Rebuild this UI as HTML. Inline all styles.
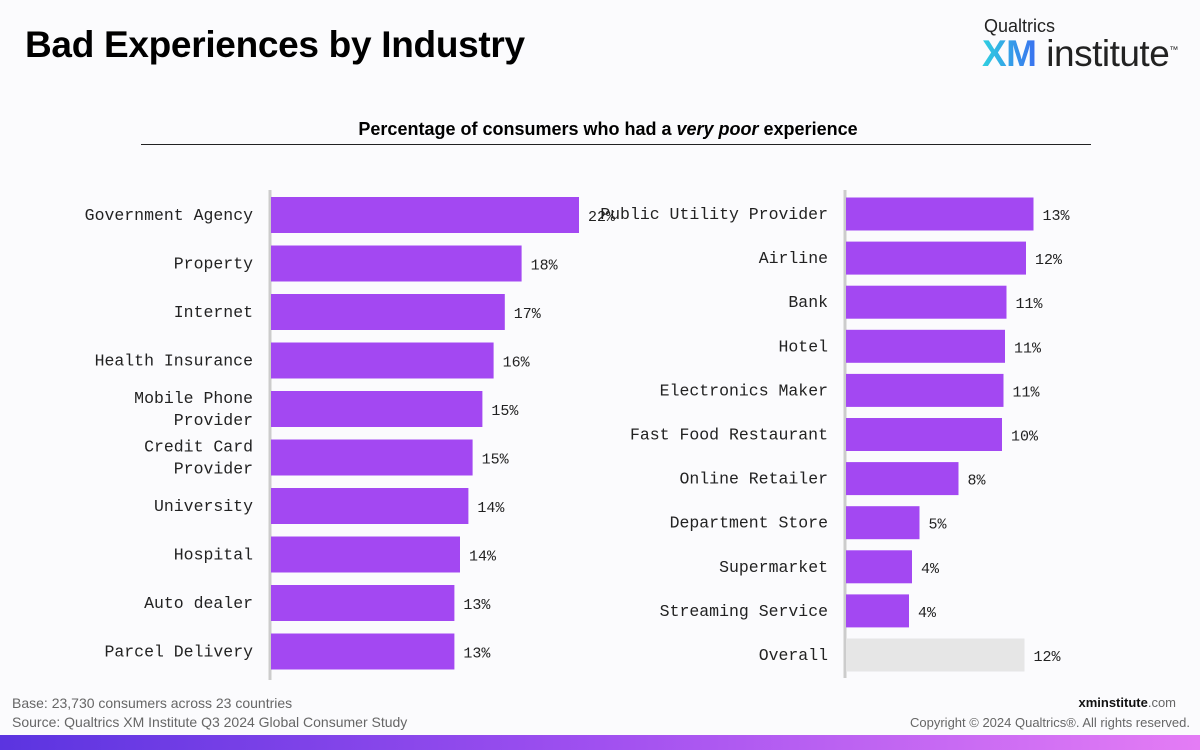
<!DOCTYPE html>
<html><head><meta charset="utf-8"><style>
body{margin:0;width:1200px;height:750px;background:#fbfbfd;font-family:"Liberation Sans",sans-serif;position:relative;overflow:hidden}
.t{position:absolute;white-space:nowrap}
</style></head><body>
<div class="t" style="left:25px;top:24px;font-size:37px;font-weight:bold;color:#000;letter-spacing:-0.3px">Bad Experiences by Industry</div>
<div class="t" style="left:984px;top:16px;font-size:18px;color:#222">Qualtrics</div>
<div class="t" style="left:982px;top:33px;font-size:37px;color:#222;letter-spacing:-0.5px"><b style="background:linear-gradient(90deg,#2fd0e0,#3a6ff0);-webkit-background-clip:text;color:transparent">XM</b> institute<sup style="font-size:9px">™</sup></div>
<div class="t" style="left:0;width:1216px;text-align:center;top:119px;font-size:18px;font-weight:bold;color:#000">Percentage of consumers who had a <i>very poor</i> experience</div>
<div style="position:absolute;left:141px;top:144px;width:950px;height:1px;background:#222"></div>
<svg id="chart" width="1200" height="750" style="position:absolute;left:0;top:0"></svg>
<div class="t" style="left:12px;top:695px;font-size:14px;color:#666">Base: 23,730 consumers across 23 countries</div>
<div class="t" style="left:12px;top:714px;font-size:14px;color:#666">Source: Qualtrics XM Institute Q3 2024 Global Consumer Study</div>
<div class="t" style="right:24px;top:695px;font-size:13px;color:#111"><b>xminstitute</b><span style="color:#666">.com</span></div>
<div class="t" style="right:10px;top:715px;font-size:13px;color:#666">Copyright © 2024 Qualtrics®. All rights reserved.</div>
<div style="position:absolute;left:0;top:735px;width:1200px;height:15px;background:linear-gradient(90deg,#5b34e0,#a050f0 50%,#e47cf5)"></div>
<script>
const leftCats=["Government Agency","Property","Internet","Health Insurance","Mobile Phone\nProvider","Credit Card\nProvider","University","Hospital","Auto dealer","Parcel Delivery"];
const leftVals=[22,17.9,16.7,15.9,15.1,14.4,14.1,13.5,13.1,13.1];
const leftLabels=["22%","18%","17%","16%","15%","15%","14%","14%","13%","13%"];
const rightCats=["Public Utility Provider","Airline","Bank","Hotel","Electronics Maker","Fast Food Restaurant","Online Retailer","Department Store","Supermarket","Streaming Service","Overall"];
const rightVals=[12.5,12,10.7,10.6,10.5,10.4,7.5,4.9,4.4,4.2,11.9];
const rightLabels=["13%","12%","11%","11%","11%","10%","8%","5%","4%","4%","12%"];
const svg=document.getElementById('chart');const NS="http://www.w3.org/2000/svg";
const FONT='Liberation Mono,DejaVu Sans Mono,monospace';
function mk(t,a){const e=document.createElementNS(NS,t);for(const k in a)e.setAttribute(k,a[k]);svg.appendChild(e);return e;}
function panel(cats,vals,labels,x0,top,step,bh,scale,axTop,axBot,pfx){
  const ax=mk('line',{x1:x0-1,x2:x0-1,y1:axTop,y2:axBot,stroke:'#ccc','stroke-width':3});
  
  
  cats.forEach((c,i)=>{
    const cy=top+i*step, w=vals[i]*scale;
    const r=mk('rect',{x:x0,y:cy-bh/2,width:w,height:bh,fill:(c==="Overall"?'#e6e6e6':'#a348f2')});
    
    
    const v=mk('text',{x:x0+w+9,y:cy+6,'font-family':FONT,'font-size':15,fill:'#222'});
    v.textContent=labels[i];
    
    
    const lines=c.split('\n');
    const t=mk('text',{x:x0-18,y:cy+5-(lines.length-1)*11,'text-anchor':'end','font-family':FONT,'font-size':16.5,fill:'#222'});
    
    
    lines.forEach((l,j)=>{const s=document.createElementNS(NS,'tspan');s.setAttribute('x',x0-18);s.setAttribute('dy',j?22:0);s.textContent=l;t.appendChild(s);});
  });
}
panel(leftCats,leftVals,leftLabels,271,215,48.5,36,14,190,680,'left');
panel(rightCats,rightVals,rightLabels,846,214,44.1,33,15,190,678,'right');
</script>
</body></html>
